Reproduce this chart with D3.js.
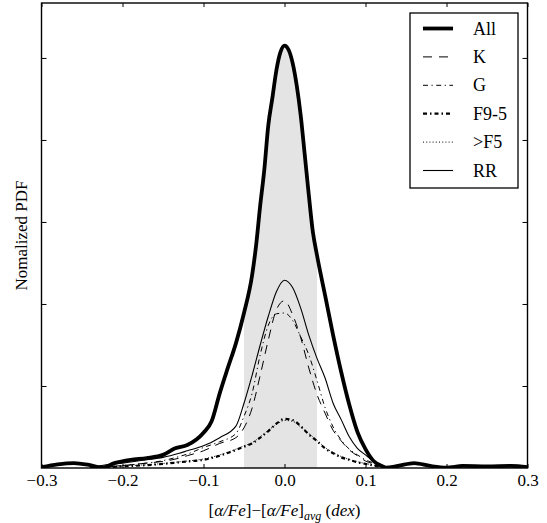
<!DOCTYPE html>
<html>
<head>
<meta charset="utf-8">
<script src="https://cdn.jsdelivr.net/npm/d3@7"></script>
<style>
  body { margin: 0; background: #fff; }
  svg text { font-family: "Liberation Serif", "Times New Roman", serif; }
</style>
</head>
<body>
<div id="chart"></div>
<script>
// Data
//-----------
var xsAll = [-0.30,-0.28,-0.26,-0.24,-0.225,-0.21,-0.19,-0.17,-0.15,-0.135,-0.12,-0.10,-0.09,-0.08,-0.07,-0.06,-0.05,-0.04,-0.035,-0.03,-0.025,-0.02,-0.015,-0.01,-0.005,0,0.005,0.01,0.015,0.02,0.025,0.03,0.035,0.04,0.05,0.06,0.07,0.08,0.09,0.10,0.11,0.12,0.125,0.14,0.16,0.18,0.20,0.22,0.25,0.28,0.30];
var pdfAll = [0.01,0.045,0.06,0.035,0.005,0.06,0.10,0.12,0.16,0.24,0.28,0.43,0.57,0.91,1.22,1.52,1.89,2.35,2.72,3.20,3.63,4.18,4.51,4.85,5.07,5.15,5.10,4.94,4.67,4.30,3.82,3.33,2.88,2.60,2.11,1.62,1.17,0.77,0.44,0.23,0.085,0.025,0.005,0.025,0.06,0.025,0.005,0.025,0.02,0.025,0.01];

var xsSub = [-0.24,-0.22,-0.20,-0.17,-0.15,-0.13,-0.12,-0.10,-0.08,-0.06,-0.05,-0.04,-0.03,-0.02,-0.01,0,0.01,0.02,0.03,0.04,0.05,0.06,0.07,0.08,0.09,0.10,0.11,0.12,0.13,0.14];
var pdfK   = [0.005,0.015,0.03,0.06,0.08,0.12,0.15,0.21,0.30,0.37,0.49,0.73,1.13,1.56,1.93,2.04,1.87,1.59,1.22,0.90,0.67,0.46,0.33,0.22,0.15,0.085,0.05,0.025,0.005,0];
var pdfG   = [0.005,0.015,0.03,0.06,0.09,0.14,0.17,0.25,0.32,0.42,0.63,0.91,1.38,1.74,1.88,1.89,1.80,1.60,1.38,1.07,0.74,0.50,0.34,0.23,0.16,0.10,0.06,0.025,0.005,0];
var pdfF95 = [0.005,0.01,0.02,0.035,0.05,0.07,0.08,0.10,0.15,0.22,0.26,0.30,0.37,0.45,0.54,0.60,0.585,0.51,0.41,0.33,0.24,0.18,0.13,0.10,0.07,0.05,0.03,0.012,0.003,0];
var pdfF5  = [0.008,0.012,0.025,0.04,0.055,0.075,0.085,0.11,0.16,0.23,0.27,0.31,0.38,0.46,0.53,0.58,0.57,0.50,0.42,0.34,0.25,0.19,0.14,0.105,0.075,0.055,0.035,0.015,0.004,0];
var pdfRR  = [0.01,0.04,0.06,0.10,0.13,0.18,0.21,0.27,0.37,0.51,0.79,1.13,1.50,1.85,2.15,2.29,2.20,1.95,1.62,1.34,1.10,0.79,0.59,0.38,0.24,0.16,0.085,0.035,0.005,0];

var seriesNames = ["All", "K", "G", "F9-5", ">F5", "RR"];
var band = [-0.05, 0.04];
var xTicks = [-0.3, -0.2, -0.1, 0.0, 0.1, 0.2, 0.3];
var yTicks = [1, 2, 3, 4, 5];

// Visualization attributes
//-----------
var w = 547, h = 523;
var pLeft = 41.5, pRight = 527.5, pTop = 3, pBottom = 468;
var serif = "Liberation Serif, Times New Roman, serif";

var styles = {
	"All":  {width: 3.8, dash: null},
	"K":    {width: 1, dash: "9,7"},
	"G":    {width: 1, dash: "5,3.5,1.2,3.5"},
	"F9-5": {width: 2.2, dash: "4,3,1.5,3"},
	">F5":  {width: 1, dash: "1,2.2"},
	"RR":   {width: 1.1, dash: null}
};

// Scales
//-----------
var xScale = d3.scaleLinear([-0.3, 0.3], [pLeft, pRight]);
var yScale = d3.scaleLinear([0, 5.67], [pBottom, pTop]);

var svg = d3.select("#chart")
	.append("svg")
	.attr("width", w)
	.attr("height", h)
	.attr("font-family", serif);

function pairs(xs, ys) {
	return xs.map(function(x, i) { return [x, ys[i]]; });
}

var series = [
	{name: "All", pts: pairs(xsAll, pdfAll)},
	{name: "K", pts: pairs(xsSub, pdfK)},
	{name: "G", pts: pairs(xsSub, pdfG)},
	{name: "F9-5", pts: pairs(xsSub, pdfF95)},
	{name: ">F5", pts: pairs(xsSub, pdfF5)},
	{name: "RR", pts: pairs(xsSub, pdfRR)}
];

var line = d3.line()
	.x(function(d) { return xScale(d[0]); })
	.y(function(d) { return yScale(d[1]); })
	.curve(d3.curveMonotoneX);

var area = d3.area()
	.x(function(d) { return xScale(d[0]); })
	.y0(yScale(0))
	.y1(function(d) { return yScale(d[1]); })
	.curve(d3.curveMonotoneX);

// Gray band under the All curve
//-----------
svg.append("clipPath")
	.attr("id", "bandclip")
	.append("rect")
	.attr("x", xScale(band[0]))
	.attr("y", pTop)
	.attr("width", xScale(band[1]) - xScale(band[0]))
	.attr("height", pBottom - pTop);

svg.append("path")
	.attr("d", area(series[0].pts))
	.attr("fill", "#e4e4e4")
	.attr("clip-path", "url(#bandclip)");

// Curves
//-----------
svg.append("clipPath")
	.attr("id", "plotclip")
	.append("rect")
	.attr("x", pLeft)
	.attr("y", pTop)
	.attr("width", pRight - pLeft)
	.attr("height", pBottom - pTop);

svg.selectAll(".curve")
	.data(series.slice().reverse())
	.enter()
	.append("path")
	.attr("class", "curve")
	.attr("d", function(d) { return line(d.pts); })
	.attr("fill", "none")
	.attr("stroke", "#000")
	.attr("stroke-width", function(d) { return styles[d.name].width; })
	.attr("stroke-dasharray", function(d) { return styles[d.name].dash; })
	.attr("clip-path", "url(#plotclip)");

// Axes
//-----------
var fmt = function(d) { return d3.format(".1f")(d).replace("-", "\u2212").replace("\u2212", "\u2212"); };

svg.append("g")
	.attr("transform", "translate(0," + pBottom + ")")
	.call(d3.axisBottom(xScale).tickValues(xTicks).tickSizeInner(-4).tickSizeOuter(0).tickPadding(6).tickFormat(fmt))
	.call(function(g) {
		g.attr("font-family", serif);
		g.select(".domain").remove();
		g.selectAll("text").attr("font-size", "17px").attr("fill", "#000");
	});

svg.append("g")
	.attr("transform", "translate(0," + pTop + ")")
	.call(d3.axisTop(xScale).tickValues(xTicks).tickSizeInner(-4).tickSizeOuter(0).tickFormat(""))
	.call(function(g) { g.select(".domain").remove(); });

svg.append("g")
	.attr("transform", "translate(" + pLeft + ",0)")
	.call(d3.axisLeft(yScale).tickValues(yTicks).tickSizeInner(-5).tickSizeOuter(0).tickFormat(""))
	.call(function(g) { g.select(".domain").remove(); });

svg.append("g")
	.attr("transform", "translate(" + pRight + ",0)")
	.call(d3.axisRight(yScale).tickValues(yTicks).tickSizeInner(-5).tickSizeOuter(0).tickFormat(""))
	.call(function(g) { g.select(".domain").remove(); });

svg.append("rect")
	.attr("x", pLeft)
	.attr("y", pTop)
	.attr("width", pRight - pLeft)
	.attr("height", pBottom - pTop)
	.attr("fill", "none")
	.attr("stroke", "#000")
	.attr("stroke-width", 1.4);

// Axis titles
//-----------
var xt = svg.append("text")
	.attr("x", (pLeft + pRight) / 2)
	.attr("y", 516)
	.attr("text-anchor", "middle")
	.attr("font-size", "17px");
xt.append("tspan").text("[");
xt.append("tspan").attr("font-style", "italic").text("\u03b1/Fe");
xt.append("tspan").text("]\u2212[");
xt.append("tspan").attr("font-style", "italic").text("\u03b1/Fe");
xt.append("tspan").text("]");
xt.append("tspan").attr("font-style", "italic").attr("font-size", "12px").attr("dy", 4).text("avg");
xt.append("tspan").attr("dy", -4).text(" (");
xt.append("tspan").attr("font-style", "italic").text("dex");
xt.append("tspan").text(")");

svg.append("text")
	.attr("transform", "translate(27," + (pTop + pBottom) / 2 + ") rotate(-90)")
	.attr("text-anchor", "middle")
	.attr("font-size", "17px")
	.text("Nomalized PDF");

// Legend
//-----------
var legend = svg.append("g");
legend.append("rect")
	.attr("x", 410)
	.attr("y", 13)
	.attr("width", 108)
	.attr("height", 175)
	.attr("fill", "#fff")
	.attr("stroke", "#000")
	.attr("stroke-width", 1.3);

var rows = legend.selectAll(".row")
	.data(seriesNames)
	.enter()
	.append("g")
	.attr("transform", function(d, i) { return "translate(0," + (28.5 + i * 28.4) + ")"; });

rows.append("line")
	.attr("x1", 423)
	.attr("x2", 453)
	.attr("stroke", "#000")
	.attr("stroke-width", function(d) { return styles[d].width; })
	.attr("stroke-dasharray", function(d) { return styles[d].dash; });

rows.append("text")
	.attr("x", 473)
	.attr("y", 6)
	.attr("font-size", "18px")
	.text(function(d) { return d; });
</script>
</body>
</html>
